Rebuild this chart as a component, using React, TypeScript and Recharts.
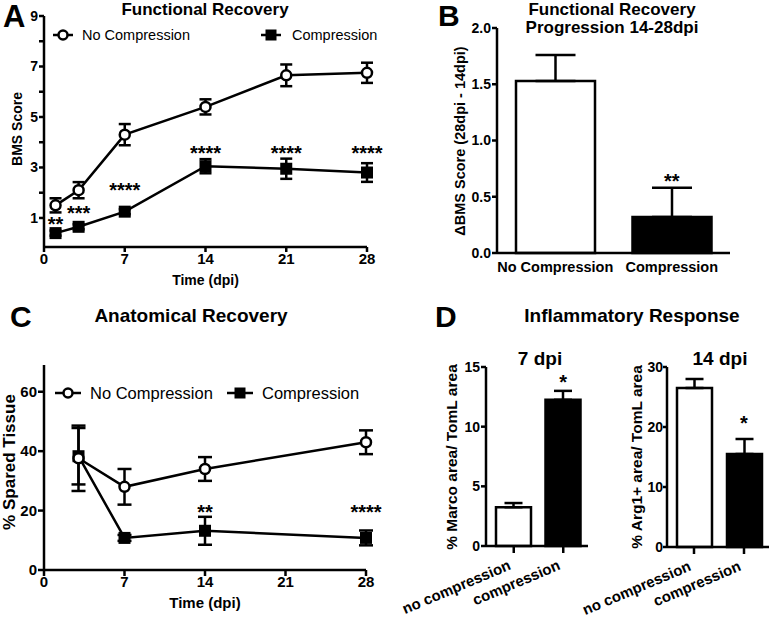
import React from "react";
import { ComposedChart, Line, Bar, Cell, Scatter, XAxis, YAxis, ErrorBar } from "recharts";

const FONT = '"Liberation Sans", Arial, Helvetica, sans-serif';
const INK = "#000";
const SW = 2.5;

// A: BMS score over time
const daysA = [1, 3, 7, 14, 21, 28];
const bmsNoComp = [1.5, 2.1, 4.3, 5.4, 6.65, 6.75];
const bmsNoCompErr = [0.28, 0.32, 0.42, 0.3, 0.43, 0.4];
const bmsComp = [0.4, 0.65, 1.25, 3.05, 2.95, 2.8];
const bmsCompErr = [0.1, 0.1, 0.1, 0.28, 0.4, 0.37];
const sigDaysA = [1, 3, 7, 14, 21, 28];
const sigLevelA = [0.9, 1.35, 2.25, 3.72, 3.72, 3.72];
const sigTextA = ["**", "***", "****", "****", "****", "****"];
const bmsTicks = [1, 2, 3, 4, 5, 6, 7, 8, 9];

// B: BMS change 14 -> 28 dpi
const groupsB = ["No Compression", "Compression"];
const deltaBms = [1.53, 0.32];
const deltaBmsErr = [0.23, 0.26];
const sigLevelB = [null, 0.68];
const sigTextB = ["", "**"];
const fillsB = ["#fff", "#000"];

// C: spared tissue
const daysC = [3, 7, 14, 28];
const sparedNoComp = [37.6, 28, 34, 43];
const sparedNoCompErr = [11, 6, 4, 4];
const sparedComp = [38.3, 10.8, 13.2, 10.8];
const sparedCompErr = [9.5, 1, 4.7, 2.5];
const sigDaysC = [14, 28];
const sigLevelC = [20.8, 20.8];
const sigTextC = ["**", "****"];

// D: inflammatory response
const groupsD = ["no compression", "compression"];
const marco7 = [3.25, 12.25];
const marco7Err = [0.35, 0.75];
const sigLevel7 = [null, 14.1];
const arg14 = [26.5, 15.5];
const arg14Err = [1.5, 2.5];
const sigLevel14 = [null, 21.3];
const sigTextD = ["", "*"];
const fillsD = ["#fff", "#000"];

const tableA = daysA.map((day, i) => ({
  day,
  noComp: bmsNoComp[i],
  noCompErr: bmsNoCompErr[i],
  comp: bmsComp[i],
  compErr: bmsCompErr[i],
}));
const starsA = sigDaysA.map((day, i) => ({ day, level: sigLevelA[i], text: sigTextA[i] }));

const tableB = groupsB.map((group, i) => ({
  group,
  value: deltaBms[i],
  range: [0, deltaBmsErr[i]],
  level: sigLevelB[i],
  text: sigTextB[i],
}));

const tableC = daysC.map((day, i) => ({
  day,
  noComp: sparedNoComp[i],
  noCompErr: sparedNoCompErr[i],
  comp: sparedComp[i],
  compErr: sparedCompErr[i],
}));
const starsC = sigDaysC.map((day, i) => ({ day, level: sigLevelC[i], text: sigTextC[i] }));

const tableD7 = groupsD.map((group, i) => ({
  group,
  value: marco7[i],
  range: [0, marco7Err[i]],
  level: sigLevel7[i],
  text: sigTextD[i],
}));
const tableD14 = groupsD.map((group, i) => ({
  group,
  value: arg14[i],
  range: [0, arg14Err[i]],
  level: sigLevel14[i],
  text: sigTextD[i],
}));

const axisStroke = { stroke: INK, strokeWidth: SW };
const tickFont = (size: number) => ({ fontSize: size, fontWeight: "bold", fill: INK });

const OpenCircle = (p: any) => (
  <circle key={`o${p.index}`} cx={p.cx} cy={p.cy} r={5} fill="#fff" stroke={INK} strokeWidth={SW} />
);
const FilledSquare = (p: any) => (
  <rect key={`s${p.index}`} x={p.cx - 6} y={p.cy - 6} width={12} height={12} fill={INK} />
);
const Stars = (p: any) => {
  const t = p.payload?.text;
  if (!t || p.cy == null || isNaN(p.cy)) return <g />;
  return (
    <text x={p.cx} y={p.cy + 11} textAnchor="middle" fontSize={20} fontWeight="bold" fill={INK}>
      {t}
    </text>
  );
};
const SlantTick = (p: any) => {
  const ax = p.x - 2;
  const ay = p.y + 16;
  return (
    <text
      x={ax}
      y={ay}
      transform={`rotate(-23, ${ax}, ${ay})`}
      textAnchor="end"
      fontSize={15}
      fontWeight="bold"
      fill={INK}
    >
      {p.payload.value}
    </text>
  );
};

const xLabel = (value: string, size: number) => ({
  value,
  position: "insideBottom" as const,
  offset: 2,
  fontSize: size,
  fontWeight: "bold",
  fill: INK,
});

// rotated axis title, centred on (cx, cy)
function VTitle({ cx, cy, size, children }: any) {
  return (
    <text
      transform={`translate(${cx}, ${cy}) rotate(-90)`}
      textAnchor="middle"
      dy="0.35em"
      fontSize={size}
      fontWeight="bold"
    >
      {children}
    </text>
  );
}

function LegendMarks({ y, size, circleX, squareX, textA, textB, lineHalf }: any) {
  return (
    <g>
      <line x1={circleX - lineHalf} x2={circleX + lineHalf} y1={y} y2={y} stroke={INK} strokeWidth={SW} />
      <circle cx={circleX} cy={y} r={4.5} fill="#fff" stroke={INK} strokeWidth={SW} />
      <text x={textA} y={y + size * 0.37} fontSize={size}>No Compression</text>
      <line x1={squareX - lineHalf} x2={squareX + lineHalf} y1={y} y2={y} stroke={INK} strokeWidth={SW} />
      <rect x={squareX - 5.5} y={y - 5.5} width={11} height={11} fill={INK} />
      <text x={textB} y={y + size * 0.37} fontSize={size}>Compression</text>
    </g>
  );
}

export default function App() {
  return (
    <div
      style={{
        position: "absolute",
        left: 0,
        top: 0,
        width: 771,
        height: 621,
        background: "#fff",
        fontFamily: FONT,
        overflow: "hidden",
      }}
    >
      {/* A */}
      <div style={{ position: "absolute", left: 0, top: 0 }}>
        <ComposedChart width={390} height={300} data={tableA} margin={{ top: 16, right: 23, bottom: 13, left: 0 }}>
          <XAxis
            dataKey="day"
            type="number"
            domain={[0, 28]}
            ticks={[0, 7, 14, 21, 28]}
            height={40}
            tickSize={5}
            tickMargin={1}
            axisLine={axisStroke}
            tickLine={axisStroke}
            tick={tickFont(15)}
            label={xLabel("Time (dpi)", 14)}
          />
          <YAxis
            type="number"
            domain={[-0.15, 9]}
            ticks={bmsTicks}
            tickFormatter={(v: number) => (v % 2 === 1 ? String(v) : "")}
            width={44}
            tickSize={5}
            tickMargin={1}
            axisLine={axisStroke}
            tickLine={axisStroke}
            tick={tickFont(14)}
          />
          <Line dataKey="comp" stroke={INK} strokeWidth={SW} dot={FilledSquare} activeDot={false} isAnimationActive={false}>
            <ErrorBar dataKey="compErr" width={6} stroke={INK} strokeWidth={SW} isAnimationActive={false} />
          </Line>
          <Line dataKey="noComp" stroke={INK} strokeWidth={SW} dot={OpenCircle} activeDot={false} isAnimationActive={false}>
            <ErrorBar dataKey="noCompErr" width={6} stroke={INK} strokeWidth={SW} isAnimationActive={false} />
          </Line>
          <Scatter data={starsA} dataKey="level" shape={Stars} isAnimationActive={false} />
        </ComposedChart>
      </div>

      {/* B */}
      <div style={{ position: "absolute", left: 390, top: 0 }}>
        <ComposedChart width={381} height={300} data={tableB} margin={{ top: 28, right: 41, bottom: 7, left: 0 }}>
          <XAxis
            dataKey="group"
            height={40}
            tickLine={false}
            tickSize={6}
            tickMargin={3}
            axisLine={axisStroke}
            tick={tickFont(14.5)}
          />
          <YAxis
            type="number"
            domain={[0, 2]}
            ticks={[0, 0.5, 1, 1.5, 2]}
            tickFormatter={(v: number) => v.toFixed(1)}
            width={107}
            tickSize={5}
            tickMargin={1}
            axisLine={axisStroke}
            tickLine={axisStroke}
            tick={tickFont(14)}
          />
          <Bar dataKey="value" barSize={79} stroke={INK} strokeWidth={SW} isAnimationActive={false}>
            {tableB.map((d, i) => (
              <Cell key={d.group} fill={fillsB[i]} />
            ))}
            <ErrorBar dataKey="range" width={20} stroke={INK} strokeWidth={SW} isAnimationActive={false} />
          </Bar>
          <Scatter dataKey="level" shape={Stars} isAnimationActive={false} />
        </ComposedChart>
      </div>

      {/* C */}
      <div style={{ position: "absolute", left: 0, top: 300 }}>
        <ComposedChart width={390} height={321} data={tableC} margin={{ top: 65, right: 24, bottom: 11, left: 0 }}>
          <XAxis
            dataKey="day"
            type="number"
            domain={[0, 28]}
            ticks={[0, 7, 14, 21, 28]}
            height={40}
            tickSize={6}
            tickMargin={0}
            axisLine={axisStroke}
            tickLine={axisStroke}
            tick={tickFont(15)}
            label={xLabel("Time (dpi)", 15)}
          />
          <YAxis
            type="number"
            domain={[0, 69]}
            ticks={[0, 20, 40, 60]}
            width={44}
            tickSize={6}
            tickMargin={1}
            axisLine={axisStroke}
            tickLine={axisStroke}
            tick={tickFont(15)}
          />
          <Line dataKey="comp" stroke={INK} strokeWidth={SW} dot={FilledSquare} activeDot={false} isAnimationActive={false}>
            <ErrorBar dataKey="compErr" width={7} stroke={INK} strokeWidth={SW} isAnimationActive={false} />
          </Line>
          <Line dataKey="noComp" stroke={INK} strokeWidth={SW} dot={OpenCircle} activeDot={false} isAnimationActive={false}>
            <ErrorBar dataKey="noCompErr" width={7} stroke={INK} strokeWidth={SW} isAnimationActive={false} />
          </Line>
          <Scatter data={starsC} dataKey="level" shape={Stars} isAnimationActive={false} />
        </ComposedChart>
      </div>

      {/* D - 7 dpi */}
      <div style={{ position: "absolute", left: 400, top: 300 }}>
        <ComposedChart width={195} height={321} data={tableD7} margin={{ top: 67, right: 7, bottom: 5, left: 40 }}>
          <XAxis
            dataKey="group"
            height={70}
            tickSize={7}
            tickMargin={0}
            padding={{ left: 3, right: 0 }}
            axisLine={axisStroke}
            tickLine={axisStroke}
            tick={<SlantTick />}
            interval={0}
          />
          <YAxis
            type="number"
            domain={[0, 15]}
            ticks={[0, 5, 10, 15]}
            width={46}
            tickSize={5}
            tickMargin={1}
            axisLine={axisStroke}
            tickLine={axisStroke}
            tick={tickFont(14)}
          />
          <Bar dataKey="value" barSize={35} stroke={INK} strokeWidth={SW} isAnimationActive={false}>
            {tableD7.map((d, i) => (
              <Cell key={d.group} fill={fillsD[i]} />
            ))}
            <ErrorBar dataKey="range" width={9} stroke={INK} strokeWidth={SW} isAnimationActive={false} />
          </Bar>
          <Scatter dataKey="level" shape={Stars} isAnimationActive={false} />
        </ComposedChart>
      </div>

      {/* D - 14 dpi */}
      <div style={{ position: "absolute", left: 580, top: 300 }}>
        <ComposedChart width={191} height={321} data={tableD14} margin={{ top: 67, right: 2, bottom: 4, left: 45 }}>
          <XAxis
            dataKey="group"
            height={70}
            tickSize={7}
            tickMargin={0}
            padding={{ left: 2, right: 0 }}
            axisLine={axisStroke}
            tickLine={axisStroke}
            tick={<SlantTick />}
            interval={0}
          />
          <YAxis
            type="number"
            domain={[0, 30]}
            ticks={[0, 10, 20, 30]}
            width={42}
            tickSize={4}
            tickMargin={0}
            axisLine={axisStroke}
            tickLine={axisStroke}
            tick={tickFont(14)}
          />
          <Bar dataKey="value" barSize={35} stroke={INK} strokeWidth={SW} isAnimationActive={false}>
            {tableD14.map((d, i) => (
              <Cell key={d.group} fill={fillsD[i]} />
            ))}
            <ErrorBar dataKey="range" width={9} stroke={INK} strokeWidth={SW} isAnimationActive={false} />
          </Bar>
          <Scatter dataKey="level" shape={Stars} isAnimationActive={false} />
        </ComposedChart>
      </div>

      {/* titles, panel letters, axis titles, legends */}
      <svg
        width={771}
        height={621}
        style={{ position: "absolute", left: 0, top: 0, pointerEvents: "none" }}
        fontFamily={FONT}
        fill={INK}
      >
        <g fontWeight="bold">
          <text x={3} y={27} fontSize={31}>A</text>
          <text x={205} y={15} fontSize={17} textAnchor="middle">Functional Recovery</text>
          <text x={438} y={26} fontSize={30}>B</text>
          <text x={612} y={15} fontSize={17} textAnchor="middle">Functional Recovery</text>
          <text x={612} y={33} fontSize={17} textAnchor="middle">Progression 14-28dpi</text>
          <text x={10} y={327} fontSize={30}>C</text>
          <text x={191} y={322} fontSize={19} textAnchor="middle">Anatomical Recovery</text>
          <text x={435} y={327} fontSize={30}>D</text>
          <text x={632} y={322} fontSize={19} textAnchor="middle">Inflammatory Response</text>
          <text x={540} y={365} fontSize={19} textAnchor="middle">7 dpi</text>
          <text x={720} y={365} fontSize={19} textAnchor="middle">14 dpi</text>
        </g>
        <VTitle cx={17} cy={129} size={14}>BMS Score</VTitle>
        <VTitle cx={460} cy={141} size={14.5}>{"\u0394BMS Score (28dpi - 14dpi)"}</VTitle>
        <VTitle cx={9} cy={462} size={17}>% Spared Tissue</VTitle>
        <VTitle cx={452} cy={457} size={15.5}>% Marco area/ TomL area</VTitle>
        <VTitle cx={637} cy={457} size={15.5}>% Arg1+ area/ TomL area</VTitle>
        <LegendMarks y={35} size={14.5} circleX={63} squareX={271} textA={82} textB={292} lineHalf={10} />
        <LegendMarks y={393} size={16.5} circleX={68} squareX={240} textA={90} textB={262} lineHalf={13} />
      </svg>
    </div>
  );
}
